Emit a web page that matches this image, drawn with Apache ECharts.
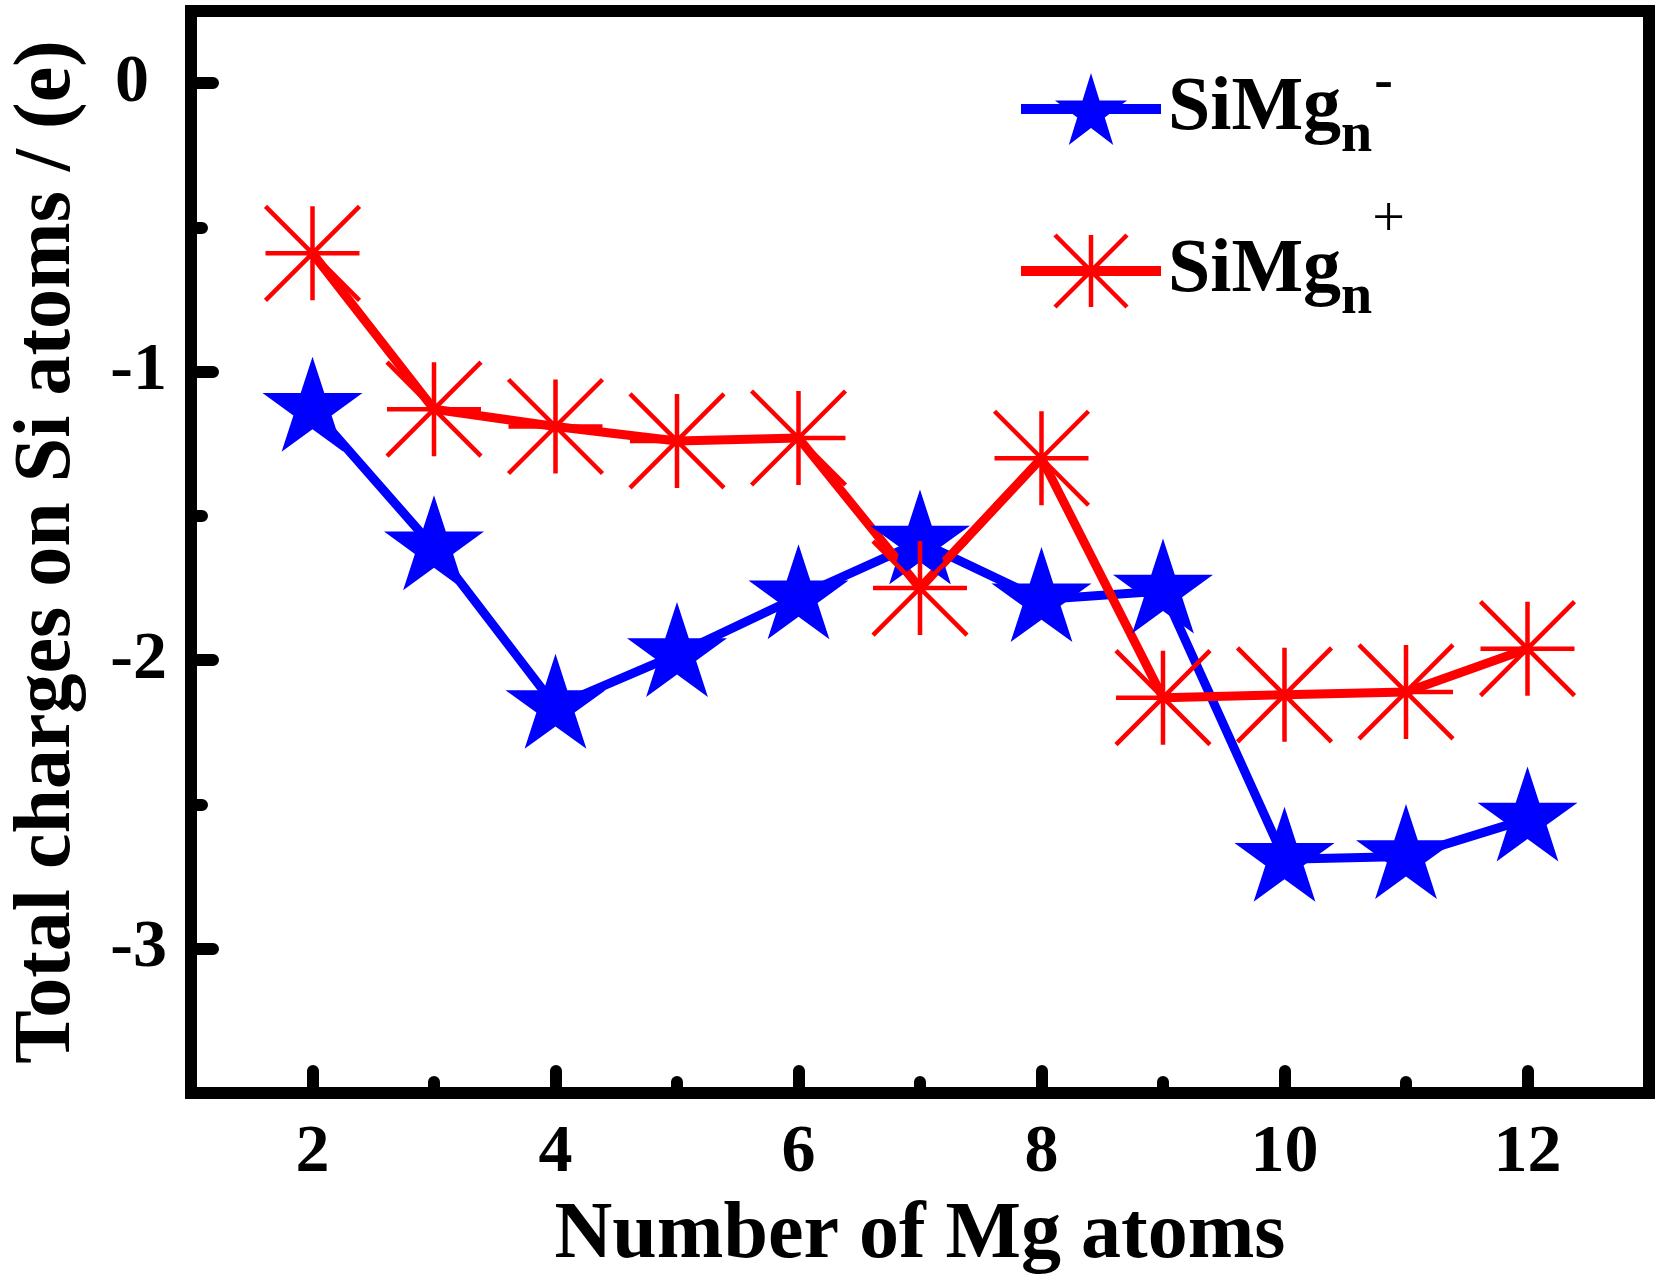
<!DOCTYPE html>
<html><head><meta charset="utf-8">
<script src="https://cdn.jsdelivr.net/npm/echarts@6/dist/echarts.min.js"></script>
<style>html,body{margin:0;padding:0;background:#fff}#c{width:1656px;height:1287px}</style>
</head><body><div id="c"></div>
<script>
const nValues = [2, 3, 4, 5, 6, 7, 8, 9, 10, 11, 12];
const anionCharges = [-1.13, -1.61, -2.16, -1.98, -1.78, -1.59, -1.79, -1.76, -2.69, -2.68, -2.55];
const cationCharges = [-0.59, -1.13, -1.19, -1.24, -1.23, -1.75, -1.30, -2.13, -2.12, -2.11, -1.96];
const xLabelValues = [2, 4, 6, 8, 10, 12];
const xMinorValues = [3, 5, 7, 9, 11];
const yLabelValues = [-3, -2, -1, 0];
const yMinorValues = [-2.5, -1.5, -0.5];
const seriesNames = ['SiMg-', 'SiMg+'];
const xTitle = 'Number of Mg atoms';
const yTitle = 'Total charges on Si atoms / (e)';

const FONT = "'Liberation Serif', 'Times New Roman', serif";

function starPath() {
  let d = '';
  for (let k = 0; k < 10; k++) {
    const a = (-90 + 36 * k) * Math.PI / 180;
    const r = k % 2 ? 19.1 : 50;
    const x = (50 + r * Math.cos(a)).toFixed(2), y = (50 + r * Math.sin(a)).toFixed(2);
    d += (k ? 'L' : 'M') + x + ' ' + y;
  }
  return 'path://' + d + 'Z';
}
const STAR = starPath();
const ASTER = 'path://M50 0L50 100M0 50L100 50M0 0L100 100M100 0L0 100';

const chart = echarts.init(document.getElementById('c'), null, {renderer: 'canvas'});

const tickStyle = {color: '#000', width: 12, cap: 'round'};
const baseX = {type: 'value', min: 1, max: 13, gridIndex: 0, splitLine: {show: false}, axisLine: {show: false, onZero: false}};
const baseY = {type: 'value', min: -3.5, max: 0.25, gridIndex: 0, splitLine: {show: false}, axisLine: {show: false, onZero: false}};
const labelFont = {fontSize: 68, fontWeight: 'bold', fontFamily: FONT, color: '#000'};

const richBase = {
  a: {fontSize: 76, fontWeight: 'bold', fontFamily: FONT, color: '#000', padding: [0, 0, 0, 2]},
  b: {fontSize: 56, fontWeight: 'bold', fontFamily: FONT, color: '#000', padding: [55, 0, 0, 0]},
  c: {fontSize: 56, fontWeight: 'bold', fontFamily: FONT, color: '#000', padding: [0, 0, 50, 2]},
  d: {fontSize: 58, fontWeight: 'normal', fontFamily: FONT, color: '#000', padding: [0, 0, 100, 0]}
};

chart.setOption({
  animation: false,
  backgroundColor: '#fff',
  grid: {left: 176, right: 7, top: 11, bottom: 194, show: true, borderColor: '#000', borderWidth: 12, backgroundColor: 'transparent'},
  legend: [
    {
      data: [seriesNames[0]], left: 1016, top: 56, padding: 0, orient: 'vertical',
      itemWidth: 140, itemHeight: 90,
      lineStyle: {width: 10},
      itemStyle: {borderWidth: 0},
      formatter: () => '{a|SiMg}{b|n}{c|-}',
      textStyle: {rich: richBase}
    },
    {
      data: [seriesNames[1]], left: 1016, top: 192, padding: 0, orient: 'vertical',
      itemWidth: 140, itemHeight: 90,
      lineStyle: {width: 10},
      itemStyle: {borderWidth: 4.5, borderColor: '#ff0000'},
      formatter: () => '{a|SiMg}{b|n}{d|+}',
      textStyle: {rich: richBase}
    }
  ],
  xAxis: [
    Object.assign({}, baseX, {
      position: 'bottom',
      name: xTitle, nameLocation: 'middle', nameGap: 103,
      nameTextStyle: {fontSize: 80, fontWeight: 'bold', fontFamily: FONT, color: '#000'},
      axisTick: {show: true, inside: true, length: 22, lineStyle: tickStyle, customValues: xLabelValues},
      axisLabel: Object.assign({show: true, margin: 26, customValues: xLabelValues}, labelFont)
    }),
    Object.assign({}, baseX, {
      position: 'bottom',
      axisTick: {show: true, inside: true, length: 11, lineStyle: tickStyle, customValues: xMinorValues},
      axisLabel: {show: false}
    })
  ],
  yAxis: [
    Object.assign({}, baseY, {
      position: 'left',
      name: yTitle, nameLocation: 'middle', nameGap: 103,
      nameTextStyle: {fontSize: 80, fontWeight: 'bold', fontFamily: FONT, color: '#000'},
      axisTick: {show: true, inside: true, length: 22, lineStyle: tickStyle, customValues: yLabelValues},
      axisLabel: Object.assign({
        show: true, margin: 24, customValues: yLabelValues,
        formatter: v => (v === 0 ? '{z|0}' : String(v)),
        rich: {z: Object.assign({padding: [0, 18, 0, 0]}, labelFont)}
      }, labelFont)
    }),
    Object.assign({}, baseY, {
      position: 'left',
      axisTick: {show: true, inside: true, length: 11, lineStyle: tickStyle, customValues: yMinorValues},
      axisLabel: {show: false}
    })
  ],
  series: [
    {
      name: seriesNames[0], type: 'line', xAxisIndex: 0, yAxisIndex: 0,
      data: nValues.map((n, i) => [n, anionCharges[i]]),
      symbol: STAR, symbolSize: [100, 95], symbolOffset: [0, -5],
      lineStyle: {color: '#0000ff', width: 9},
      itemStyle: {color: '#0000ff', borderWidth: 0},
      showAllSymbol: true
    },
    {
      name: seriesNames[1], type: 'line', xAxisIndex: 0, yAxisIndex: 0,
      data: nValues.map((n, i) => [n, cationCharges[i]]),
      symbol: ASTER, symbolSize: 94,
      lineStyle: {color: '#ff0000', width: 9},
      itemStyle: {color: '#ff0000', borderColor: '#ff0000', borderWidth: 4.5},
      showAllSymbol: true
    }
  ]
});
</script></body></html>
